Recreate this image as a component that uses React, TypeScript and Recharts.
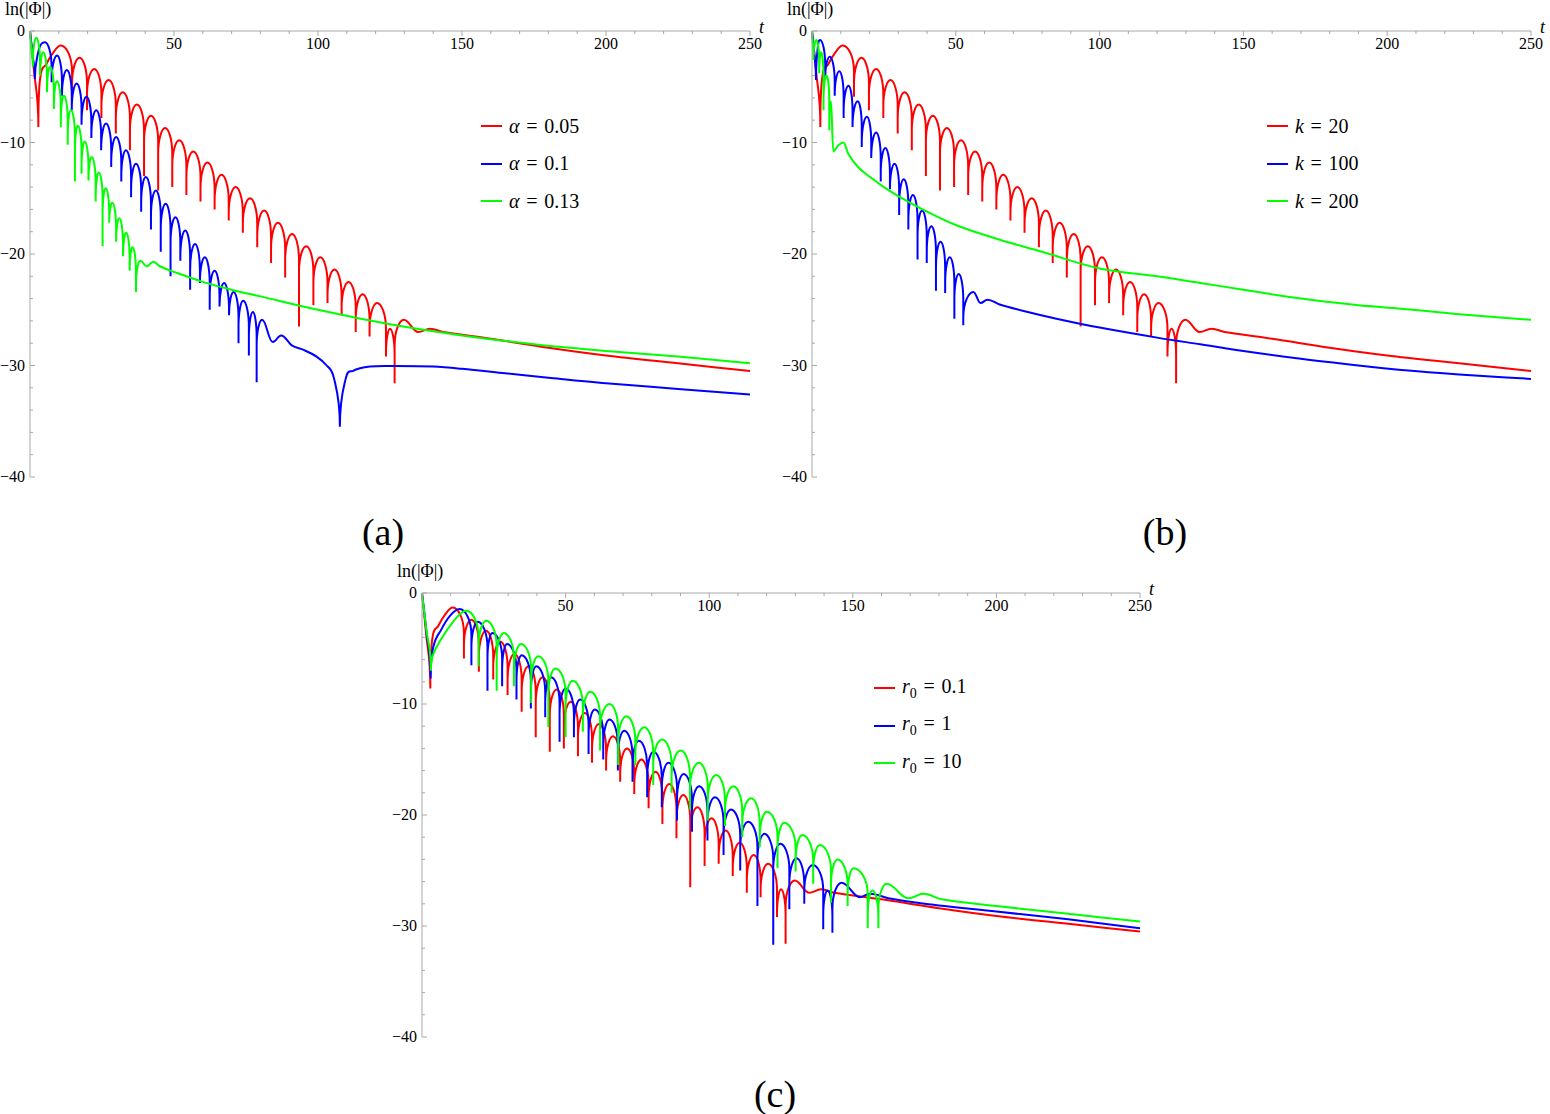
import { LineChart, Line, XAxis, YAxis } from "recharts";

const AXIS = "#a8a8a8";
const SERIF = "'Liberation Serif', 'Times New Roman', serif";
const RED = "#ff0000";
const BLUE = "#0000ff";
const GREEN = "#00ff00";
const EQ = "\u2004=\u2004";

// [t, ln|Φ|] samples: zeros of Φ (spikes), crests and a few points on the tails
const redBase = [
  [0, 0], [1.4, -3.6], [2.9, -8.6], [3.5, -4.3], [5.6, -3.0], [7.9, -2.0], [10.7, -1.3],
  [14.6, -5.9], [17.2, -2.4], [19.8, -7.1], [22.3, -3.4], [24.8, -7.8], [27.3, -4.4],
  [29.8, -9.2], [32.2, -5.5], [34.7, -10.7], [37.1, -6.6], [39.6, -13.0], [42.0, -7.6],
  [44.5, -14.3], [46.9, -8.7], [49.4, -14.0], [51.8, -9.8], [54.3, -14.7], [56.7, -10.8],
  [59.2, -15.3], [61.6, -11.8], [64.1, -16.0], [66.5, -12.9], [69.0, -17.0], [71.4, -14.0],
  [73.9, -18.1], [76.4, -15.0], [78.9, -19.4], [81.3, -16.1], [83.7, -20.8], [86.1, -17.2],
  [88.6, -22.1], [91.0, -18.2], [93.4, -26.5], [95.9, -19.3], [98.4, -24.6], [100.8, -20.3],
  [103.3, -24.4], [105.7, -21.4], [108.2, -25.5], [110.6, -22.5], [113.1, -27.0], [115.5, -23.6],
  [117.9, -27.4], [120.5, -24.4], [123.6, -29.2], [125.0, -26.7], [126.6, -31.6], [129.8, -25.9],
  [134.8, -27.0], [138.9, -26.7], [143.5, -27.0], [160, -27.6], [180, -28.4], [200, -29.1],
  [225, -29.8], [250, -30.5],
];

const blueA = [
  [0, 0], [0.9, -2.2], [1.7, -4.3], [2.6, -2.2], [3.8, -1.2], [5.2, -1.0], [7.5, -4.6],
  [9.4, -2.2], [11.1, -5.8], [12.8, -3.5], [14.5, -7.1], [16.2, -4.7], [17.9, -8.4],
  [19.6, -5.9], [21.3, -9.6], [23.0, -7.1], [24.7, -10.7], [26.4, -8.3], [28.2, -12.2],
  [29.9, -9.5], [31.7, -13.5], [33.3, -10.7], [35.1, -14.9], [36.8, -11.9], [38.6, -16.2],
  [40.2, -13.1], [42.0, -17.8], [43.7, -14.3], [45.4, -19.8], [47.1, -15.5], [48.8, -22.0],
  [50.5, -16.7], [52.2, -20.6], [53.9, -17.9], [55.6, -23.2], [57.3, -19.1], [59.0, -22.6],
  [60.7, -20.3], [62.4, -25.0], [64.1, -21.5], [65.8, -24.7], [67.4, -22.6], [69.1, -25.5],
  [70.7, -23.4], [72.4, -28.0], [74.0, -24.2], [76.0, -29.1], [77.4, -25.2], [78.7, -31.5],
  [80.6, -25.9], [84.3, -27.9], [87.2, -27.3], [90.9, -28.2], [95.0, -28.6], [99.5, -29.2],
  [103.0, -30.0], [105.6, -31.2], [107.6, -35.5], [109.6, -31.2], [112.0, -30.5], [118, -30.1],
  [127, -30.05], [140, -30.1], [150, -30.3], [165, -30.7], [180, -31.1], [200, -31.6],
  [225, -32.1], [250, -32.6],
];

const greenA = [
  [0, 0], [0.6, -2.0], [1.0, -3.2], [2.2, -0.6], [3.5, -4.0], [4.6, -1.9], [5.9, -5.5],
  [7.0, -3.2], [8.3, -7.0], [9.4, -4.5], [10.7, -8.6], [11.8, -5.8], [13.1, -10.2],
  [14.2, -7.1], [15.6, -13.5], [16.6, -8.5], [17.9, -12.8], [19.0, -9.9], [20.3, -13.4],
  [21.4, -11.3], [22.8, -15.3], [23.9, -12.7], [25.2, -19.3], [26.3, -14.1], [27.5, -17.2],
  [28.6, -15.4], [29.9, -18.9], [31.0, -16.8], [32.3, -20.2], [33.4, -18.1], [34.6, -21.5],
  [35.6, -19.4], [36.8, -23.4], [38.3, -20.6], [40.5, -21.1], [42.8, -20.7], [45.1, -21.1],
  [50, -21.6], [60, -22.5], [70, -23.2], [80, -23.8], [100, -25.0], [125, -26.3],
  [150, -27.3], [175, -28.1], [200, -28.7], [225, -29.2], [250, -29.8],
];

const blueB = [
  [0, 0], [0.8, -2.0], [1.4, -4.4], [2.0, -1.5], [2.8, -0.8], [4.6, -4.2], [6.2, -2.3],
  [7.9, -5.8], [9.5, -3.6], [11.0, -7.8], [12.7, -4.9], [14.1, -8.6], [15.9, -6.3],
  [17.3, -10.4], [19.1, -7.7], [20.6, -11.4], [22.3, -9.1], [23.9, -13.5], [25.5, -10.5],
  [27.1, -14.2], [28.7, -11.9], [30.3, -16.5], [31.9, -13.3], [33.5, -17.8], [35.1, -14.7],
  [36.7, -20.5], [38.3, -16.1], [39.9, -20.8], [41.5, -17.5], [43.1, -23.3], [44.7, -18.9],
  [46.3, -23.5], [47.9, -20.3], [49.5, -25.8], [51.0, -21.8], [52.6, -26.4], [56.1, -23.4],
  [58.6, -24.4], [61.0, -24.1], [65, -24.5], [75, -25.2], [85, -25.8], [100, -26.6],
  [120, -27.5], [135, -28.1], [150, -28.7], [170, -29.4], [190, -30.0], [205, -30.4],
  [225, -30.8], [250, -31.2],
];

const greenB = [
  [0, 0], [0.5, -2.6], [1.5, -0.8], [2.5, -3.8], [3.2, -1.9], [4.0, -7.1], [5.0, -4.0],
  [6.0, -8.9], [6.6, -6.3], [7.4, -10.8], [9.0, -10.3], [10.9, -10.0], [12.6, -11.0],
  [16, -12.2], [20.2, -13.1], [25, -14.0], [30, -14.8], [40, -16.2], [50, -17.4],
  [65, -18.7], [80, -19.8], [100, -21.3], [120, -22.0], [135, -22.6], [150, -23.2],
  [170, -24.0], [190, -24.6], [205, -24.9], [225, -25.4], [250, -25.9],
];

const blueC = [
  [0, 0], [1.5, -3.4], [3.0, -7.7], [3.8, -5.0], [6.7, -3.3], [9.6, -2.1], [13.1, -1.45],
  [17.2, -6.5], [19.4, -2.6], [22.8, -8.8], [24.5, -3.6], [27.9, -8.4], [29.6, -4.6],
  [32.9, -9.6], [34.7, -5.6], [37.9, -10.4], [39.8, -6.6], [42.9, -11.2], [44.9, -7.6],
  [47.9, -13.4], [50.0, -8.6], [52.9, -13.0], [55.1, -9.6], [58.0, -14.5], [60.2, -10.5],
  [63.1, -15.0], [65.3, -11.4], [68.2, -16.0], [70.4, -12.4], [73.3, -17.0], [75.5, -13.3],
  [78.4, -18.4], [80.6, -14.3], [83.5, -19.3], [85.8, -15.3], [88.8, -20.5], [91.1, -16.3],
  [94.0, -21.5], [96.5, -17.4], [99.4, -22.3], [102.0, -18.4], [105.0, -23.6], [107.6, -19.5],
  [110.8, -25.0], [113.6, -20.6], [116.8, -28.2], [119.2, -21.7], [122.3, -31.7], [124.8, -22.6],
  [127.9, -28.5], [130.4, -23.9], [133.1, -28.0], [136.1, -24.5], [139.7, -30.3], [141.2, -26.8],
  [142.9, -30.6], [146.1, -26.1], [152.5, -27.4], [156.0, -27.1], [162.4, -27.5], [175, -28.0],
  [200, -28.7], [225, -29.4], [250, -30.2],
];

const greenC = [
  [0, 0], [1.5, -3.3], [3.1, -7.0], [3.8, -5.6], [7.3, -3.9], [10.8, -2.6], [13.7, -1.8],
  [15.4, -1.6], [19.7, -6.6], [22.4, -2.5], [26.0, -8.8], [28.5, -3.6], [32.0, -8.4],
  [34.5, -4.6], [38.0, -9.9], [40.5, -5.7], [44.0, -12.1], [46.5, -6.8], [50.0, -13.0],
  [52.5, -7.9], [56.0, -12.5], [58.6, -8.9], [62.0, -14.2], [65.3, -10.0], [68.3, -15.5],
  [71.2, -11.1], [74.3, -15.5], [77.4, -12.1], [80.5, -17.3], [83.6, -13.2], [86.9, -18.0],
  [90.1, -14.2], [93.3, -19.5], [96.4, -15.3], [99.5, -20.5], [102.5, -16.4], [105.5, -21.0],
  [108.4, -17.4], [111.5, -22.0], [114.6, -18.5], [117.6, -22.9], [120.1, -19.7], [123.8, -24.8],
  [126.1, -20.7], [130.1, -25.1], [132.4, -21.8], [136.2, -26.2], [138.5, -22.7], [142.4, -27.9],
  [144.7, -24.0], [148.2, -28.2], [150.2, -24.8], [155.2, -30.2], [156.8, -26.8], [158.9, -30.2],
  [161.8, -26.2], [169.3, -27.5], [174.6, -27.1], [181, -27.6], [200, -28.2], [225, -28.9],
  [250, -29.6],
];

const xTicks = Array.from({ length: 26 }, (_, i) => i * 10);
const yTicks = Array.from({ length: 21 }, (_, i) => -40 + i * 2);

const toRows = (pts: number[][]) => pts.map(([t, v]) => ({ t, v }));

const KNEE = 26; // px from a crest down to where the spike turns vertical
const CUSP = 7; // minimum depth (px) for a minimum to be drawn as a spike

// d3-style curve: vertical spikes at the zeros, rounded crests, smooth elsewhere
function archCurve(ctx: any) {
  let xs: number[] = [];
  let ys: number[] = [];
  const draw = () => {
    const n = xs.length;
    if (!n) return;
    ctx.moveTo(xs[0], ys[0]);
    const kind = xs.map((_, i) => {
      if (i === 0 || i === n - 1) return 0;
      const a = ys[i] - ys[i - 1];
      const b = ys[i] - ys[i + 1];
      if (a > CUSP && b > CUSP) return 1;
      if ((a > 0 && b > 0) || (a < 0 && b < 0)) return 2;
      return 0;
    });
    const slope = xs.map((_, i) => {
      const p = Math.max(i - 1, 0);
      const q = Math.min(i + 1, n - 1);
      return (ys[q] - ys[p]) / (xs[q] - xs[p] || 1);
    });
    for (let i = 0; i < n - 1; i++) {
      const x0 = xs[i], y0 = ys[i], x1 = xs[i + 1], y1 = ys[i + 1];
      const dx = x1 - x0;
      const k0 = kind[i], k1 = kind[i + 1];
      if (k0 === 1 && k1 === 2 && y1 < y0) {
        const d = Math.min(y0 - y1, KNEE);
        ctx.lineTo(x0, y1 + d);
        ctx.bezierCurveTo(x0, y1 + 0.4 * d, x1 - 0.45 * dx, y1, x1, y1);
      } else if (k0 === 2 && k1 === 1 && y0 < y1) {
        const d = Math.min(y1 - y0, KNEE);
        ctx.bezierCurveTo(x0 + 0.45 * dx, y0, x1, y0 + 0.4 * d, x1, y0 + d);
        ctx.lineTo(x1, y1);
      } else {
        const c1 =
          k0 === 1 ? [x0, y0 + (y1 - y0) * 0.6]
          : k0 === 2 ? [x0 + dx * 0.4, y0]
          : [x0 + dx / 3, y0 + (slope[i] * dx) / 3];
        const c2 =
          k1 === 1 ? [x1, y1 - (y1 - y0) * 0.6]
          : k1 === 2 ? [x1 - dx * 0.4, y1]
          : [x1 - dx / 3, y1 - (slope[i + 1] * dx) / 3];
        ctx.bezierCurveTo(c1[0], c1[1], c2[0], c2[1], x1, y1);
      }
    }
  };
  return {
    areaStart() {},
    areaEnd() {},
    lineStart() {
      xs = [];
      ys = [];
    },
    point(x: number, y: number) {
      xs.push(+x);
      ys.push(+y);
    },
    lineEnd() {
      draw();
    },
  };
}

const XTick = (props: any) => {
  const { x, y, payload } = props;
  const major = payload.value % 50 === 0;
  return (
    <g>
      <line x1={x} y1={y} x2={x} y2={y + (major ? 5 : 3)} stroke={AXIS} />
      {major && payload.value > 0 && (
        <text x={x} y={y + 18} textAnchor="middle" fontSize={16} fontFamily={SERIF} fill="#000">
          {payload.value}
        </text>
      )}
    </g>
  );
};

const YTick = (props: any) => {
  const { x, y, payload } = props;
  const major = payload.value % 10 === 0;
  return (
    <g>
      <line x1={x} y1={y} x2={x + (major ? 5 : 3)} y2={y} stroke={AXIS} />
      {major && (
        <text x={x - 5} y={y + 5} textAnchor="end" fontSize={16} fontFamily={SERIF} fill="#000">
          {payload.value === 0 ? "0" : "\u2212" + Math.abs(payload.value)}
        </text>
      )}
    </g>
  );
};

type Series = { name: string; color: string; pts: number[][] };

function Panel(props: {
  x: number;
  y: number;
  pw: number;
  ph: number;
  series: Series[];
  legend: React.ReactNode[];
  legendX: number;
  legendY: number;
  caption: string;
  capX: number;
  capY: number;
}) {
  const { x, y, pw, ph, series, legend, legendX, legendY, caption, capX, capY } = props;
  return (
    <>
      <div style={{ position: "absolute", left: x - 30, top: y - 31 }}>
        <LineChart width={pw + 60} height={ph + 43} margin={{ top: 11, right: 30, bottom: 12, left: 0 }}>
          <XAxis
            type="number"
            dataKey="t"
            domain={[0, 250]}
            ticks={xTicks}
            interval={0}
            orientation="top"
            height={20}
            axisLine={{ stroke: AXIS }}
            tickLine={false}
            tickSize={0}
            tickMargin={0}
            tick={XTick}
          />
          <YAxis
            type="number"
            domain={[-40, 0]}
            ticks={yTicks}
            interval={0}
            width={30}
            axisLine={{ stroke: AXIS }}
            tickLine={false}
            tickSize={0}
            tickMargin={0}
            tick={YTick}
          />
          {series.map((s) => (
            <Line
              key={s.name}
              data={toRows(s.pts)}
              dataKey="v"
              type={archCurve as any}
              stroke={s.color}
              strokeWidth={2}
              dot={false}
              isAnimationActive={false}
            />
          ))}
        </LineChart>
      </div>
      <div style={{ position: "absolute", left: x - 25, top: y - 32, font: `18px ${SERIF}` }}>ln(|Φ|)</div>
      <div style={{ position: "absolute", left: x + pw + 9, top: y - 14, font: `italic 18px ${SERIF}` }}>t</div>
      {series.map((s, i) => (
        <div
          key={s.name}
          style={{
            position: "absolute",
            left: legendX,
            top: legendY + i * 37.5 - 12,
            height: 24,
            display: "flex",
            alignItems: "center",
            font: `20px ${SERIF}`,
            whiteSpace: "pre",
          }}
        >
          <span style={{ display: "inline-block", width: 21, height: 2, background: s.color, marginRight: 7 }} />
          {legend[i]}
        </div>
      ))}
      <div
        style={{
          position: "absolute",
          left: capX - 50,
          width: 100,
          top: capY - 23,
          textAlign: "center",
          font: `38px ${SERIF}`,
        }}
      >
        {caption}
      </div>
    </>
  );
}

export default function App() {
  return (
    <div style={{ position: "absolute", left: 0, top: 0, width: 1550, height: 1114, background: "#fff" }}>
      <Panel
        x={30}
        y={31}
        pw={720}
        ph={446}
        series={[
          { name: "a1", color: RED, pts: redBase },
          { name: "a2", color: BLUE, pts: blueA },
          { name: "a3", color: GREEN, pts: greenA },
        ]}
        legend={[
          <span><i>α</i>{EQ}0.05</span>,
          <span><i>α</i>{EQ}0.1</span>,
          <span><i>α</i>{EQ}0.13</span>,
        ]}
        legendX={481}
        legendY={126}
        caption="(a)"
        capX={383}
        capY={533}
      />
      <Panel
        x={812}
        y={31}
        pw={719}
        ph={446}
        series={[
          { name: "b1", color: RED, pts: redBase },
          { name: "b2", color: BLUE, pts: blueB },
          { name: "b3", color: GREEN, pts: greenB },
        ]}
        legend={[
          <span><i>k</i>{EQ}20</span>,
          <span><i>k</i>{EQ}100</span>,
          <span><i>k</i>{EQ}200</span>,
        ]}
        legendX={1267}
        legendY={126}
        caption="(b)"
        capX={1165}
        capY={533}
      />
      <Panel
        x={422}
        y={593}
        pw={718}
        ph={444}
        series={[
          { name: "c1", color: RED, pts: redBase },
          { name: "c2", color: BLUE, pts: blueC },
          { name: "c3", color: GREEN, pts: greenC },
        ]}
        legend={[
          <span><i>r</i><sub style={{ fontSize: 14 }}>0</sub>{EQ}0.1</span>,
          <span><i>r</i><sub style={{ fontSize: 14 }}>0</sub>{EQ}1</span>,
          <span><i>r</i><sub style={{ fontSize: 14 }}>0</sub>{EQ}10</span>,
        ]}
        legendX={874}
        legendY={688}
        caption="(c)"
        capX={775}
        capY={1095}
      />
    </div>
  );
}
